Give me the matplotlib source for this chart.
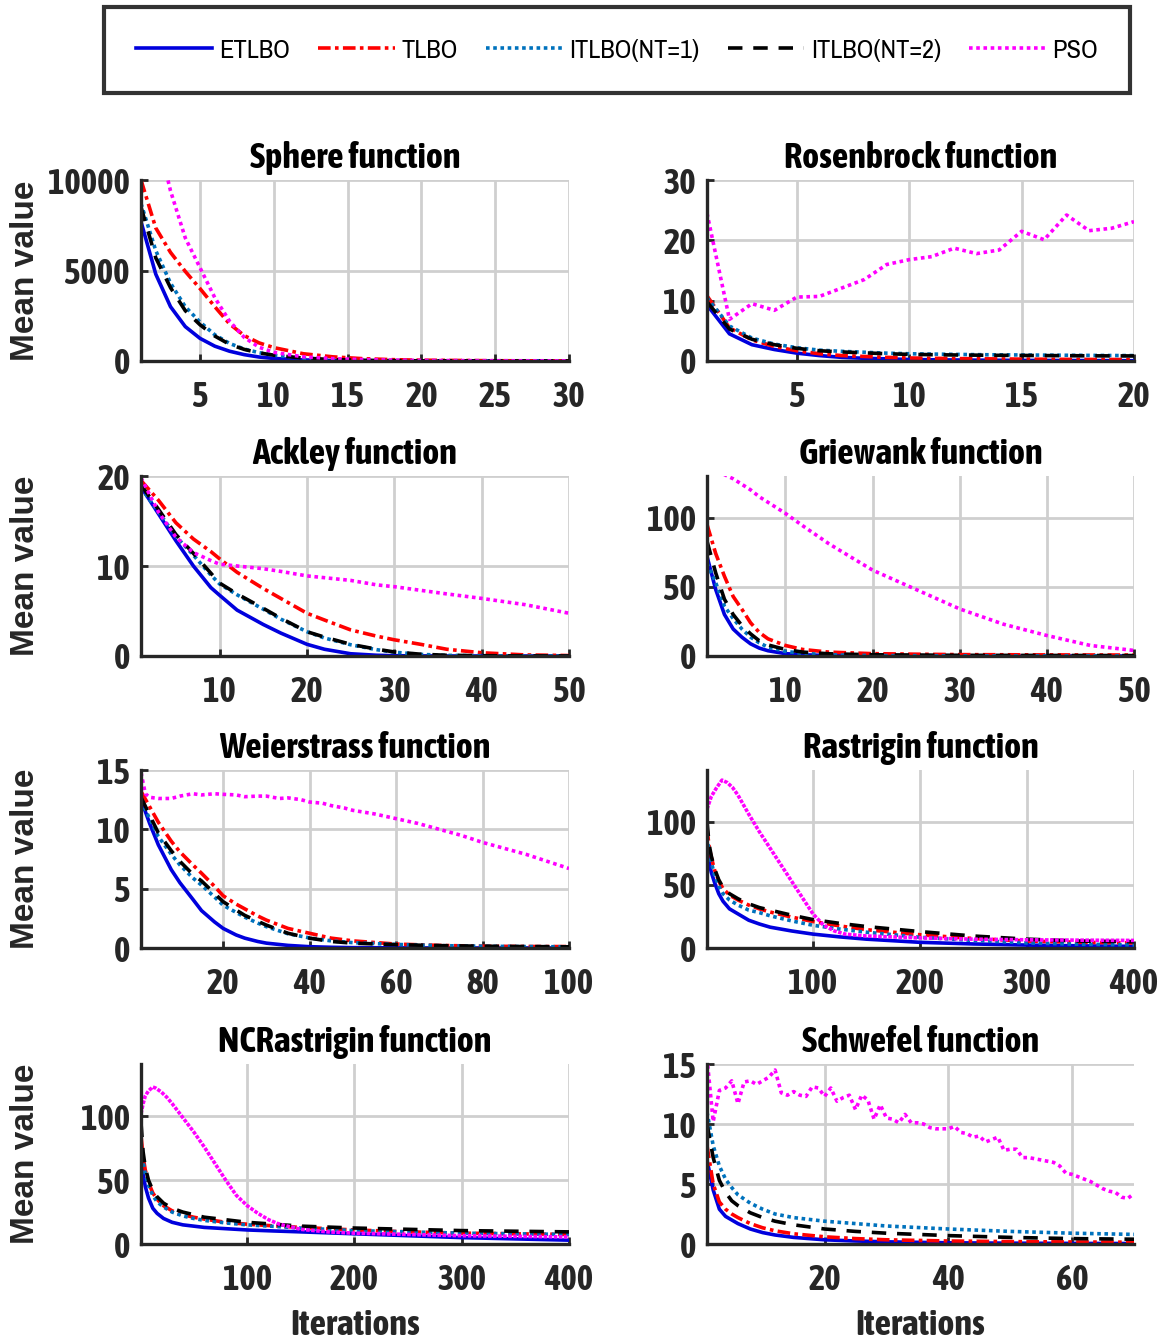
import matplotlib
matplotlib.use('Agg')
import matplotlib.pyplot as plt
from matplotlib import font_manager as fm
from matplotlib.lines import Line2D

# ---------------- data ----------------
series_names = ['ETLBO', 'TLBO', 'ITLBO(NT=1)', 'ITLBO(NT=2)', 'PSO']

# Sphere
sphere_x = [1, 2, 3, 4, 5, 6, 7, 8, 9, 10, 12, 14, 16, 18, 20, 25, 30]
sphere_etlbo = [7700, 4800, 3000, 1900, 1250, 820, 540, 350, 220, 140, 60, 25, 12, 6, 3, 1, 0.5]
sphere_tlbo = [10000, 7350, 6000, 4950, 4000, 3000, 2050, 1400, 1000, 740, 400, 230, 130, 75, 45, 15, 5]
sphere_itlbo1 = [8700, 6100, 4300, 3000, 2150, 1450, 970, 660, 460, 320, 160, 80, 40, 20, 10, 3, 1]
sphere_itlbo2 = [8500, 5700, 4050, 2780, 2000, 1380, 920, 640, 450, 320, 160, 80, 40, 20, 10, 3, 1]
sphere_pso_x = sphere_x
sphere_pso = [17000, 12800, 9400, 6800, 5150, 3500, 2200, 1300, 760, 480, 230, 130, 80, 50, 30, 15, 10]

# Rosenbrock
rosen_x = list(range(1, 21))
rosen_etlbo = [9.3, 4.5, 2.7, 1.9, 1.3, 0.9, 0.6, 0.45, 0.35, 0.25, 0.2, 0.17, 0.14, 0.12, 0.1, 0.09, 0.08, 0.07, 0.06, 0.05]
rosen_tlbo = [10.8, 5.5, 3.5, 2.4, 1.7, 1.2, 0.9, 0.75, 0.6, 0.5, 0.45, 0.4, 0.37, 0.34, 0.31, 0.29, 0.27, 0.26, 0.25, 0.24]
rosen_itlbo1 = [10.5, 5.8, 3.8, 2.8, 2.2, 1.8, 1.6, 1.45, 1.3, 1.2, 1.15, 1.1, 1.05, 1.02, 1.0, 0.97, 0.95, 0.93, 0.91, 0.9]
rosen_itlbo2 = [9.8, 5.3, 3.6, 2.7, 2.1, 1.7, 1.5, 1.35, 1.2, 1.1, 1.05, 1.0, 0.97, 0.94, 0.92, 0.9, 0.88, 0.86, 0.85, 0.84]
rosen_pso_x = rosen_x
rosen_pso = [24.5, 6.9, 9.5, 8.4, 10.6, 10.7, 12.1, 13.5, 16.0, 16.8, 17.3, 18.7, 17.8, 18.4, 21.5, 20.1, 24.2, 21.6, 22.0, 23.1]

# Ackley
ackley_x = [1, 3, 5, 7, 9, 10, 12, 15, 17, 20, 22, 25, 28, 30, 33, 36, 40, 45, 50]
ackley_etlbo = [18.8, 15.8, 12.8, 10.0, 7.6, 6.75, 5.1, 3.5, 2.55, 1.3, 0.75, 0.25, 0.08, 0.03, 0.01, 0, 0, 0, 0]
ackley_tlbo = [19.5, 17.3, 14.8, 13.0, 11.6, 10.8, 9.3, 7.5, 6.4, 4.75, 4.0, 2.9, 2.2, 1.8, 1.3, 0.75, 0.36, 0.12, 0.05]
ackley_itlbo1 = [18.7, 16.0, 13.3, 11.2, 9.0, 8.0, 6.8, 5.2, 4.1, 2.7, 2.0, 1.25, 0.7, 0.42, 0.18, 0.07, 0.03, 0.01, 0]
ackley_itlbo2 = [19.0, 16.3, 13.5, 11.4, 9.2, 8.1, 6.9, 5.3, 4.2, 2.7, 2.1, 1.3, 0.75, 0.45, 0.2, 0.08, 0.03, 0.01, 0]
ackley_pso_x = ackley_x
ackley_pso = [19.8, 16.0, 13.2, 11.5, 10.6, 10.2, 10.0, 9.7, 9.4, 8.9, 8.7, 8.4, 7.9, 7.7, 7.3, 6.9, 6.4, 5.7, 4.75]

# Griewank
griew_x = [1, 2, 3, 4, 5, 6, 7, 8, 10, 12, 15, 20, 25, 30, 35, 40, 45, 50]
griew_etlbo = [72, 48, 30, 19.5, 13.6, 8.8, 5.7, 3.8, 1.7, 0.9, 0.3, 0.1, 0.05, 0.03, 0.02, 0.01, 0.01, 0.01]
griew_tlbo = [95, 74, 57.6, 43, 33.8, 24, 17, 12.4, 7.6, 4.7, 2.8, 1.7, 1.3, 1.0, 0.9, 0.8, 0.75, 0.7]
griew_itlbo1 = [67, 53, 36, 27, 19.5, 13.6, 9.5, 6.4, 3.3, 1.9, 0.9, 0.3, 0.2, 0.15, 0.1, 0.1, 0.1, 0.1]
griew_itlbo2 = [83, 60, 41, 30, 22, 16, 11, 8, 4.7, 2.8, 1.6, 0.9, 0.7, 0.5, 0.45, 0.4, 0.35, 0.3]
griew_pso_x = griew_x
griew_pso = [141, 137, 131, 128, 124, 120, 115, 111, 103, 94, 81, 62, 48, 34, 23, 14.8, 7.6, 4.0]

# Weierstrass
weier_x = [1, 3, 5, 8, 10, 13, 15, 18, 20, 23, 25, 28, 30, 35, 40, 45, 50, 60, 70, 80, 90, 100]
weier_etlbo = [12.5, 10.5, 8.7, 6.6, 5.5, 4.1, 3.15, 2.2, 1.65, 1.1, 0.83, 0.55, 0.41, 0.22, 0.11, 0.06, 0.03, 0.01, 0, 0, 0, 0]
weier_tlbo = [13.2, 11.9, 10.6, 9.0, 8.1, 7.0, 6.3, 5.2, 4.4, 3.7, 3.3, 2.7, 2.35, 1.65, 1.24, 0.83, 0.6, 0.33, 0.22, 0.15, 0.13, 0.12]
weier_itlbo1 = [12.4, 10.9, 9.4, 7.9, 7.0, 5.9, 5.3, 4.3, 3.6, 3.0, 2.6, 2.1, 1.8, 1.2, 0.85, 0.6, 0.45, 0.3, 0.2, 0.15, 0.12, 0.1]
weier_itlbo2 = [12.7, 11.2, 9.7, 8.2, 7.3, 6.2, 5.65, 4.6, 3.9, 3.2, 2.75, 2.25, 1.93, 1.24, 0.83, 0.55, 0.41, 0.28, 0.2, 0.15, 0.12, 0.1]
weier_pso_x = [1, 2, 3, 5, 8, 10, 13, 15, 18, 20, 23, 25, 28, 30, 33, 35, 38, 40, 43, 45,
               48, 50, 55, 60, 65, 70, 75, 80, 85, 90, 95, 100]
weier_pso = [14.8, 13.0, 12.7, 12.6, 12.6, 12.8, 13.0, 12.9, 13.0, 12.95, 12.9, 12.75, 12.8, 12.8, 12.6,
             12.65, 12.5, 12.3, 12.2, 12.0, 11.8, 11.6, 11.3, 10.9, 10.5, 10.0, 9.5, 8.9, 8.4, 7.9, 7.3, 6.7]

# Rastrigin
rast_x = [1, 3, 5, 8, 12, 16, 22, 30, 40, 50, 60, 80, 100, 125, 150, 200, 250, 300, 350, 400]
rast_etlbo = [80, 68, 60, 52, 43, 37, 31, 27, 22, 19, 16.5, 13.5, 11, 8.8, 7, 4.5, 3.2, 2.3, 1.7, 1.3]
rast_tlbo = [95, 80, 72, 62, 53, 47, 42, 38, 34, 31, 28.5, 24.5, 21, 17.5, 14.5, 10.5, 7.5, 5.5, 4.5, 4]
rast_itlbo1 = [88, 76, 68, 58, 49, 43, 38, 34, 30, 28, 25.5, 21.5, 18, 15, 12.5, 8.5, 6, 4, 3, 2.5]
rast_itlbo2 = [100, 82, 73, 63, 54, 48, 43, 39, 35, 32, 30, 26, 22.5, 19.5, 17, 13, 9.5, 7, 5.5, 5]
rast_pso_x = [1, 5, 10, 15, 20, 25, 30, 40, 50, 60, 70, 80, 90, 100, 110, 120, 130, 150, 200, 250, 300, 350, 400]
rast_pso = [110, 120, 127, 133, 131, 127, 121, 106, 92, 79, 66, 53, 40, 27, 18, 13.5, 11, 9.5, 8, 7, 6.5, 6.2, 6]

# NCRastrigin
ncr_x = rast_x
ncr_etlbo = [70, 55, 45, 36, 28, 24, 20, 17, 15, 14, 13, 12, 11, 10.2, 9.5, 8, 6.5, 5, 4, 3]
ncr_tlbo = [85, 68, 58, 48, 40, 35, 30, 26, 23, 21, 19.5, 17, 15.5, 14.2, 13, 11, 9.5, 8.5, 8, 7.5]
ncr_itlbo1 = [80, 64, 55, 46, 38, 33, 29, 25, 22, 20, 18.5, 16.5, 15, 13.8, 12.5, 10.5, 9.5, 8.5, 8, 7.5]
ncr_itlbo2 = [95, 72, 60, 50, 42, 37, 32, 28, 25, 23, 21, 19, 17, 15.5, 14, 12.5, 11.5, 10.5, 10, 9.5]
ncr_pso_x = [1, 3, 5, 8, 12, 15, 20, 25, 30, 40, 50, 60, 70, 80, 90, 100, 110, 120, 130, 150,
             175, 200, 250, 300, 350, 400]
ncr_pso = [102, 110, 116, 120, 123, 122, 119, 115, 110, 99, 88, 76, 63, 50, 38, 30, 24, 19, 15.5, 11.5,
           9.5, 8.5, 7.5, 6.5, 6, 5.5]

# Schwefel
schw_x = [1, 2, 3, 4, 5, 6, 8, 10, 12, 15, 20, 25, 30, 40, 50, 60, 70]
schw_etlbo = [7.0, 4.5, 2.9, 2.3, 2.0, 1.7, 1.25, 0.95, 0.75, 0.55, 0.35, 0.25, 0.18, 0.1, 0.07, 0.05, 0.04]
schw_tlbo = [8.2, 5.0, 3.5, 2.9, 2.5, 2.2, 1.7, 1.35, 1.1, 0.85, 0.6, 0.45, 0.35, 0.25, 0.2, 0.17, 0.15]
schw_itlbo1 = [11.0, 8.2, 6.5, 5.4, 4.7, 4.1, 3.4, 2.9, 2.5, 2.2, 1.9, 1.7, 1.5, 1.25, 1.05, 0.9, 0.8]
schw_itlbo2 = [10.0, 7.2, 5.3, 4.3, 3.6, 3.2, 2.6, 2.2, 1.9, 1.6, 1.25, 1.05, 0.9, 0.7, 0.55, 0.45, 0.4]
schw_pso_x = list(range(1, 71))
schw_pso = [15.5, 10.2, 12.8, 13.0, 13.6, 11.7, 13.5, 13.6, 13.3, 13.6,
            13.9, 14.5, 12.6, 12.4, 12.7, 12.4, 12.3, 13.1, 13.0, 12.3,
            13.0, 11.9, 12.2, 12.4, 11.2, 12.4, 12.0, 10.4, 11.6, 10.5,
            10.4, 10.1, 10.8, 10.1, 10.1, 10.0, 9.7, 9.6, 9.6, 9.6,
            9.8, 9.3, 9.2, 8.9, 9.0, 8.5, 8.7, 8.9, 7.8, 7.9,
            7.9, 7.2, 7.2, 7.1, 7.0, 6.9, 6.8, 6.5, 5.9, 5.8,
            5.6, 5.4, 5.2, 4.9, 4.6, 4.4, 4.3, 3.9, 3.8, 4.2]

titles = ['Sphere function', 'Rosenbrock function', 'Ackley function', 'Griewank function',
          'Weierstrass function', 'Rastrigin function', 'NCRastrigin function', 'Schwefel function']
xlims = [(1, 30), (1, 20), (1, 50), (1, 50), (1, 100), (1, 400), (1, 400), (1, 70)]
ylims = [(0, 10000), (0, 30), (0, 20), (0, 130), (0, 15), (0, 141), (0, 141), (0, 15)]
xticks = [[5, 10, 15, 20, 25, 30], [5, 10, 15, 20], [10, 20, 30, 40, 50], [10, 20, 30, 40, 50],
          [20, 40, 60, 80, 100], [100, 200, 300, 400], [100, 200, 300, 400], [20, 40, 60]]
yticks = [[0, 5000, 10000], [0, 10, 20, 30], [0, 10, 20], [0, 50, 100],
          [0, 5, 10, 15], [0, 50, 100], [0, 50, 100], [0, 5, 10, 15]]

panels = [
    (sphere_x, [sphere_etlbo, sphere_tlbo, sphere_itlbo1, sphere_itlbo2], sphere_pso_x, sphere_pso),
    (rosen_x, [rosen_etlbo, rosen_tlbo, rosen_itlbo1, rosen_itlbo2], rosen_pso_x, rosen_pso),
    (ackley_x, [ackley_etlbo, ackley_tlbo, ackley_itlbo1, ackley_itlbo2], ackley_pso_x, ackley_pso),
    (griew_x, [griew_etlbo, griew_tlbo, griew_itlbo1, griew_itlbo2], griew_pso_x, griew_pso),
    (weier_x, [weier_etlbo, weier_tlbo, weier_itlbo1, weier_itlbo2], weier_pso_x, weier_pso),
    (rast_x, [rast_etlbo, rast_tlbo, rast_itlbo1, rast_itlbo2], rast_pso_x, rast_pso),
    (ncr_x, [ncr_etlbo, ncr_tlbo, ncr_itlbo1, ncr_itlbo2], ncr_pso_x, ncr_pso),
    (schw_x, [schw_etlbo, schw_tlbo, schw_itlbo1, schw_itlbo2], schw_pso_x, schw_pso),
]

# ---------------- fonts ----------------
ttf = fm.fontManager.ttflist
names = {f.name for f in ttf}


def _w(f):
    try:
        return int(f.weight)
    except (TypeError, ValueError):
        return 700 if str(f.weight).lower() == 'bold' else 400


def _is_narrow(f):
    return ('Narrow' in f.name or 'Condensed' in f.name or
            str(f.stretch).lower() in ('condensed', 'semi-condensed', 'extra-condensed'))


narrow_regular = sorted({f.name for f in ttf if _is_narrow(f) and 350 <= _w(f) <= 500})
narrow_bold = [f for f in ttf if _is_narrow(f) and _w(f) >= 600]
narrow_bold.sort(key=lambda f: (f.name not in narrow_regular, abs(_w(f) - 700), f.name))

if narrow_regular:
    LEG_FONT = dict(family=narrow_regular[0])
else:
    LEG_FONT = dict(family='DejaVu Sans', stretch='condensed')

if narrow_bold:
    fb = narrow_bold[0]
    BOLD_FONT = dict(family=fb.name, weight=_w(fb), stretch=fb.stretch)
else:
    BOLD_FONT = dict(family='DejaVu Sans', weight='bold', stretch='condensed')
WIDE = dict(family='Liberation Sans' if 'Liberation Sans' in names else 'DejaVu Sans')

LW = 2.6
styles = [
    dict(color='#0000DD', linestyle='-', lw=LW),
    dict(color='#FF0000', linestyle=(0, (3.5, 1.2, 1.0, 1.2)), lw=LW),
    dict(color='#0072BD', linestyle=(0, (1.0, 1.0)), lw=LW),
    dict(color='#000000', linestyle=(0, (4.0, 3.0)), lw=LW),
    dict(color='#FF00FF', linestyle=(0, (1.0, 1.0)), lw=LW),
]
dense_pso = {5, 6}  # panels where PSO appears almost solid

AXC = '#262626'
W, H = 1168, 1342
fig = plt.figure(figsize=(W / 100, H / 100), dpi=100)

col_lefts = [141, 707]
col_widths = [428, 427]
rows = [(180, 361), (476, 656), (770, 948), (1064, 1244)]
TICK_FS = 25
TITLE_FS = 26

for i, (xs, others, px, py) in enumerate(panels):
    r, c = divmod(i, 2)
    top, bot = rows[r]
    ax = fig.add_axes([col_lefts[c] / W, 1 - bot / H, col_widths[c] / W, (bot - top) / H])
    for k, ys in enumerate(others):
        ax.plot(xs, ys, **styles[k], zorder=3 + k)
    pst = dict(styles[4])
    if i in dense_pso:
        pst['linestyle'] = (0, (1.0, 0.4))
    ax.plot(px, py, **pst, zorder=8)
    ax.set_xlim(*xlims[i])
    ax.set_ylim(*ylims[i])
    ax.set_xticks(xticks[i])
    ax.set_yticks(yticks[i])
    ax.grid(True, color='#cfcfcf', lw=2.0)
    ax.set_axisbelow(True)
    for s in ['top', 'right']:
        ax.spines[s].set_visible(False)
    for s in ['left', 'bottom']:
        ax.spines[s].set_linewidth(2.4)
        ax.spines[s].set_color(AXC)
        ax.spines[s].set_zorder(10)
    ax.tick_params(direction='in', length=5, width=2, colors=AXC, labelsize=TICK_FS)
    ax.tick_params(axis='y', pad=8)
    ax.tick_params(axis='x', pad=14)
    for lab in ax.get_xticklabels() + ax.get_yticklabels():
        lab.set_fontfamily(BOLD_FONT['family'])
        lab.set_fontweight(BOLD_FONT['weight'])
        lab.set_fontstretch(BOLD_FONT['stretch'])
    ax.text(0.5, 1 + 22 / (bot - top), titles[i], transform=ax.transAxes, ha='center', va='center',
            fontsize=TITLE_FS, color='black', **BOLD_FONT)
    if c == 0:
        ax.set_ylabel('Mean value', fontsize=24, fontweight='bold', color=AXC, va='center', **WIDE)
        ax.yaxis.set_label_coords((26 - 141) / 428, 0.5)
    if r == 3:
        ax.set_xlabel('Iterations', fontsize=TITLE_FS, color=AXC, va='center', **BOLD_FONT)
        ax.xaxis.set_label_coords(0.5, -(1325 - bot) / (bot - top))

handles = [Line2D([], [], **styles[k]) for k in range(5)]
leg = fig.legend(handles, series_names, loc='center',
                 bbox_to_anchor=(104 / W, 1 - 95 / H, 1026 / W, 90 / H), mode='expand',
                 ncol=5, frameon=True, fancybox=False, borderpad=1.2, handlelength=2.9,
                 handletextpad=0.25, borderaxespad=0,
                 prop=dict(size=19, **LEG_FONT))
leg.get_frame().set_linewidth(3)
leg.get_frame().set_edgecolor('black')

fig.savefig('out.png', dpi=100)
